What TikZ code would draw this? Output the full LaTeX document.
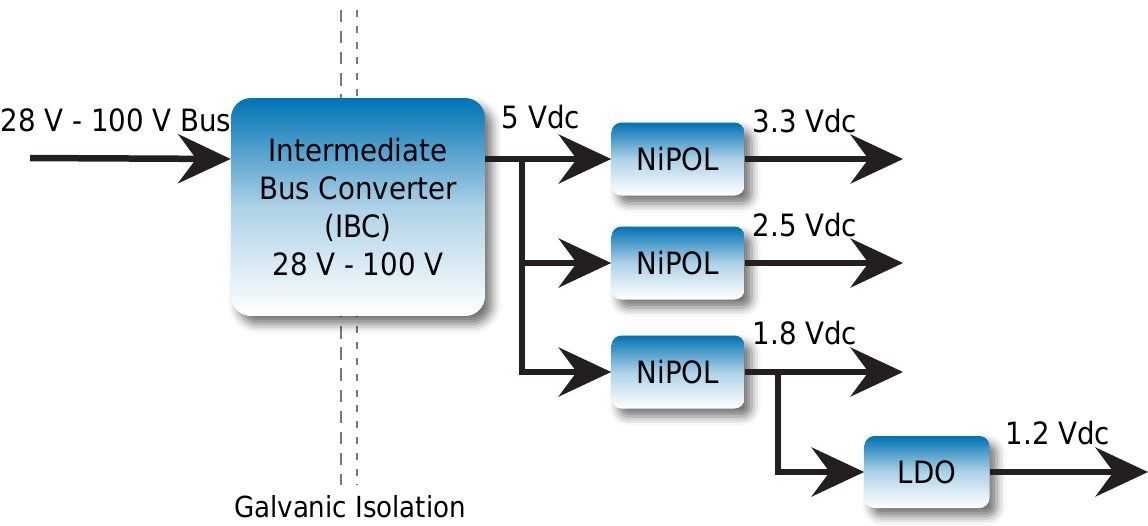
\documentclass[tikz,border=0pt]{standalone}
\usepackage{fontspec}
\setmainfont{DejaVu Sans Condensed}
\usepackage{xcolor}
\usetikzlibrary{arrows.meta,positioning,shadows.blur}
\definecolor{ibcblue}{RGB}{0,114,180}
\definecolor{wiregray}{RGB}{35,31,32}
\definecolor{isogray}{RGB}{120,120,120}

\begin{document}
\begin{tikzpicture}[
      x=0.02cm, y=-0.02cm,
      font=\fontsize{17.5}{21.6}\selectfont,
      blk/.style={rounded corners=0.2cm, top color=ibcblue, bottom color=white,
                  middle color=ibcblue!32, minimum width=2.66cm,
                  minimum height=1.46cm, inner sep=0pt, align=center,
                  blur shadow={shadow xshift=0.14cm, shadow yshift=-0.16cm,
                               shadow blur radius=0.18cm, shadow opacity=55}},
      wire/.style={line width=0.13cm, draw=wiregray},
      arr/.style={wire, -{Stealth[length=1.05cm, width=0.98cm, inset=0.36cm]}},
      iso/.style={line width=0.04cm, draw=isogray}
    ]
    \useasboundingbox (0,0) rectangle (1148,525);

    % isolation barrier
    \draw[iso, dash pattern=on 7pt off 5pt] (341,10) -- (341,485);
    \draw[iso, dash pattern=on 4pt off 5pt] (357,10) -- (357,485);
    \node[font=\fontsize{16.5}{20}\selectfont] (galv) at (350,507) {Galvanic Isolation};

    % blocks
    \node[blk, rounded corners=0.4cm, minimum width=5.08cm, minimum height=4.36cm]
         (ibc) at (358,207) {Intermediate\\Bus Converter\\(IBC)\\28 V - 100 V};
    \node[blk] (pol1) at (678,159) {NiPOL};
    \node[blk] (pol2) at (678,263) {NiPOL};
    \node[blk] (pol3) at (678,372) {NiPOL};
    \node[blk, minimum width=2.5cm, minimum height=1.44cm] (ldo) at (927,472) {LDO};

    % input bus
    \coordinate (busin) at (30,158);
    \draw[arr] (busin) -- (ibc.west |- pol1);
    \node (buslbl) at (116,120) {28 V - 100 V Bus};

    % 5 V intermediate bus
    \coordinate (split) at (522,159);
    \draw[wire] (ibc.east |- pol1) -- (split);
    \draw[arr] (split) -- (pol1.west);
    \draw[arr] (split) |- (pol2.west);
    \draw[arr] (split) |- (pol3.west);
    \node (v5) at (541,117) {5 Vdc};

    % outputs
    \coordinate (out1) at (903,159);
    \coordinate (out2) at (903,263);
    \coordinate (out3) at (903,372);
    \coordinate (out4) at (1148,472);
    \coordinate (tap) at (778,372);
    \draw[arr] (pol1.east) -- (out1);
    \draw[arr] (pol2.east) -- (out2);
    \draw[arr] (pol3.east) -- (out3);
    \draw[arr] (tap) |- (ldo.west);
    \draw[arr] (ldo.east) -- (out4);
    \node (v33) at (805,121) {3.3 Vdc};
    \node (v25) at (805,225) {2.5 Vdc};
    \node (v18) at (805,333) {1.8 Vdc};
    \node (v12) at (1058,433) {1.2 Vdc};
  \end{tikzpicture}
\end{document}
